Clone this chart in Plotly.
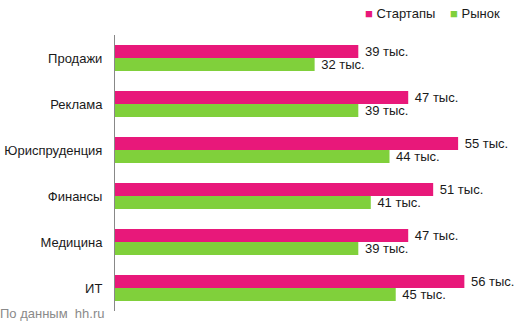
import plotly.graph_objects as go

categories = ["Продажи", "Реклама", "Юриспруденция", "Финансы", "Медицина", "ИТ"]
startups = [39, 47, 55, 51, 47, 56]
market = [32, 39, 44, 41, 39, 45]
series_names = ["Стартапы", "Рынок"]
colors = ["#E8187A", "#80D03B"]
unit = "тыс."
source_text = "По данным  hh.ru"

FONT = "Liberation Sans, Arial, sans-serif"
FS = 13

fig = go.Figure()
for name, vals, col in zip(series_names, [startups, market], colors):
    fig.add_trace(go.Bar(
        y=categories, x=vals, name=name, orientation="h",
        marker=dict(color=col, line=dict(width=0)),
        text=[f" {v} {unit}" for v in vals],
        textposition="outside", cliponaxis=False, constraintext="none",
        textfont=dict(family=FONT, size=FS, color="#1a1a1a"),
        showlegend=False,
    ))

fig.update_layout(
    width=523, height=324,
    margin=dict(l=115, r=0, t=35, b=13),
    paper_bgcolor="white", plot_bgcolor="white",
    barmode="group", bargap=0.435, bargroupgap=0,
    font=dict(family=FONT, size=FS, color="#1a1a1a"),
    xaxis=dict(range=[0, 65.4], showgrid=False, zeroline=False,
               showticklabels=False, showline=False, fixedrange=True),
    yaxis=dict(autorange="reversed", showgrid=False, zeroline=False,
               showline=True, linecolor="#888888", linewidth=1,
               ticks="", ticklabelstandoff=9,
               tickfont=dict(family=FONT, size=FS, color="#1a1a1a")),
)

legend_x = [363, 448]
for name, col, lx in zip(series_names, colors, legend_x):
    fig.add_annotation(
        xref="paper", yref="paper", x=(lx - 115) / 408, y=1 + (35 - 13) / 276,
        xanchor="left", yanchor="middle", showarrow=False,
        text=f"<span style='color:{col}'>■</span> {name}",
        font=dict(family=FONT, size=FS, color="#1a1a1a"),
    )

fig.add_annotation(
    xref="paper", yref="paper", x=-117 / 408, y=-(313 - 311) / 276,
    xanchor="left", yanchor="middle", showarrow=False,
    text=source_text,
    font=dict(family=FONT, size=FS, color="#8a8a8a"),
)

fig.write_html("out.html")
